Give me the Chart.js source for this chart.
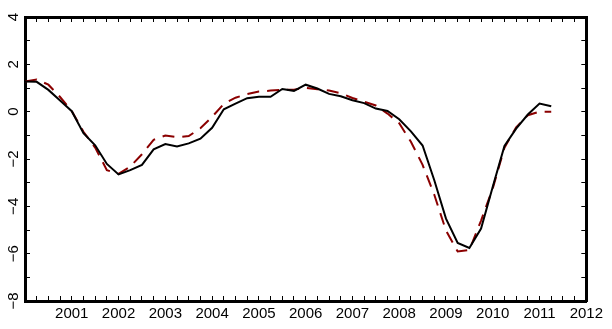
<!DOCTYPE html>
<html>
<head>
<meta charset="utf-8">
<script src="https://cdn.jsdelivr.net/npm/chart.js@4/dist/chart.umd.min.js"></script>
<style>
  html, body { margin: 0; padding: 0; background: #fff; }
  #wrap { width: 612px; height: 329px; }
</style>
</head>
<body>
<div id="wrap"><canvas id="c" width="612" height="329"></canvas></div>
<script>
// Quarterly periods, 2000Q1 .. 2011Q2
const periods = [
  '2000Q1','2000Q2','2000Q3','2000Q4','2001Q1','2001Q2','2001Q3','2001Q4',
  '2002Q1','2002Q2','2002Q3','2002Q4','2003Q1','2003Q2','2003Q3','2003Q4',
  '2004Q1','2004Q2','2004Q3','2004Q4','2005Q1','2005Q2','2005Q3','2005Q4',
  '2006Q1','2006Q2','2006Q3','2006Q4','2007Q1','2007Q2','2007Q3','2007Q4',
  '2008Q1','2008Q2','2008Q3','2008Q4','2009Q1','2009Q2','2009Q3','2009Q4',
  '2010Q1','2010Q2','2010Q3','2010Q4','2011Q1','2011Q2'
];

// Solid black series
const seriesSolid = [
  1.27, 1.26, 0.92, 0.47, 0.02, -0.91, -1.42, -2.21,
  -2.65, -2.47, -2.25, -1.59, -1.37, -1.47, -1.34, -1.14,
  -0.68, 0.10, 0.34, 0.57, 0.63, 0.63, 0.96, 0.88,
  1.14, 0.98, 0.75, 0.65, 0.48, 0.36, 0.13, 0.03,
  -0.32, -0.83, -1.43, -2.90, -4.52, -5.55, -5.76, -4.94,
  -3.17, -1.45, -0.72, -0.12, 0.34, 0.23
];

// Dashed dark-red series
const seriesDashed = [
  1.27, 1.36, 1.14, 0.62, 0.02, -0.85, -1.52, -2.47,
  -2.63, -2.32, -1.80, -1.19, -1.01, -1.08, -1.03, -0.70,
  -0.22, 0.33, 0.59, 0.74, 0.85, 0.89, 0.92, 0.93,
  1.01, 0.95, 0.89, 0.78, 0.58, 0.42, 0.26, -0.08,
  -0.49, -1.27, -2.25, -3.51, -5.02, -5.91, -5.84, -4.60,
  -3.24, -1.52, -0.66, -0.15, 0.00, 0.00
];

// Axis labels
const yearLabels = ['2001','2002','2003','2004','2005','2006','2007','2008','2009','2010','2011','2012'];
const valueLabels = ['4','2','0','\u22122','\u22124','\u22126','\u22128'];

const xMin = 2000, xMax = 2012, yMin = -8, yMax = 4;

function periodToYear(p) {
  return parseInt(p.slice(0, 4), 10) + (parseInt(p.slice(5), 10) - 1) / 4;
}
function toPoints(values) {
  return values.map((v, i) => ({ x: periodToYear(periods[i]), y: v }));
}
function valueText(v) {
  const s = v < 0 ? '\u2212' + Math.abs(v) : String(v);
  return valueLabels.includes(s) ? s : '';
}
function yearText(v) {
  const s = String(v);
  return yearLabels.includes(s) ? s : '';
}

const FONT = { family: '"Liberation Sans", Arial, sans-serif', size: 15 };
const TICK_GRID = {
  drawOnChartArea: false,
  drawTicks: true,
  tickLength: -5,
  color: '#000',
  lineWidth: 1
};
const FRAME = { display: true, width: 3, color: '#000' };

new Chart(document.getElementById('c'), {
  type: 'line',
  data: {
    datasets: [
      {
        data: toPoints(seriesSolid),
        borderColor: '#000000',
        borderWidth: 2,
        pointRadius: 0,
        tension: 0,
        fill: false
      },
      {
        data: toPoints(seriesDashed),
        borderColor: '#8b0000',
        borderWidth: 2,
        borderDash: [12, 8],
        pointRadius: 0,
        tension: 0,
        fill: false
      }
    ]
  },
  options: {
    responsive: false,
    animation: false,
    devicePixelRatio: 1,
    layout: { padding: { top: 9, right: 20, left: 0, bottom: 0 } },
    plugins: { legend: { display: false }, tooltip: { enabled: false } },
    scales: {
      x: {
        type: 'linear', position: 'bottom', min: xMin, max: xMax,
        grid: TICK_GRID, border: FRAME,
        ticks: {
          stepSize: 0.25, autoSkip: false, maxRotation: 0, minRotation: 0,
          color: '#000', font: FONT, padding: 9,
          callback: (v) => yearText(v)
        },
        afterFit: (s) => { s.height = 28; }
      },
      xTop: {
        type: 'linear', position: 'top', min: xMin, max: xMax,
        grid: TICK_GRID, border: FRAME,
        ticks: { stepSize: 0.25, autoSkip: false, display: false },
        afterFit: (s) => { s.height = 0; }
      },
      y: {
        type: 'linear', position: 'left', min: yMin, max: yMax,
        grid: TICK_GRID, border: FRAME,
        ticks: {
          stepSize: 1, autoSkip: false, minRotation: 90, maxRotation: 90,
          crossAlign: 'center', color: '#000', font: FONT, padding: 8,
          callback: (v) => valueText(v)
        },
        afterFit: (s) => { s.width = 25; }
      },
      yRight: {
        type: 'linear', position: 'right', min: yMin, max: yMax,
        grid: TICK_GRID, border: FRAME,
        ticks: { stepSize: 1, autoSkip: false, display: false },
        afterFit: (s) => { s.width = 0; }
      }
    }
  }
});
</script>
</body>
</html>
